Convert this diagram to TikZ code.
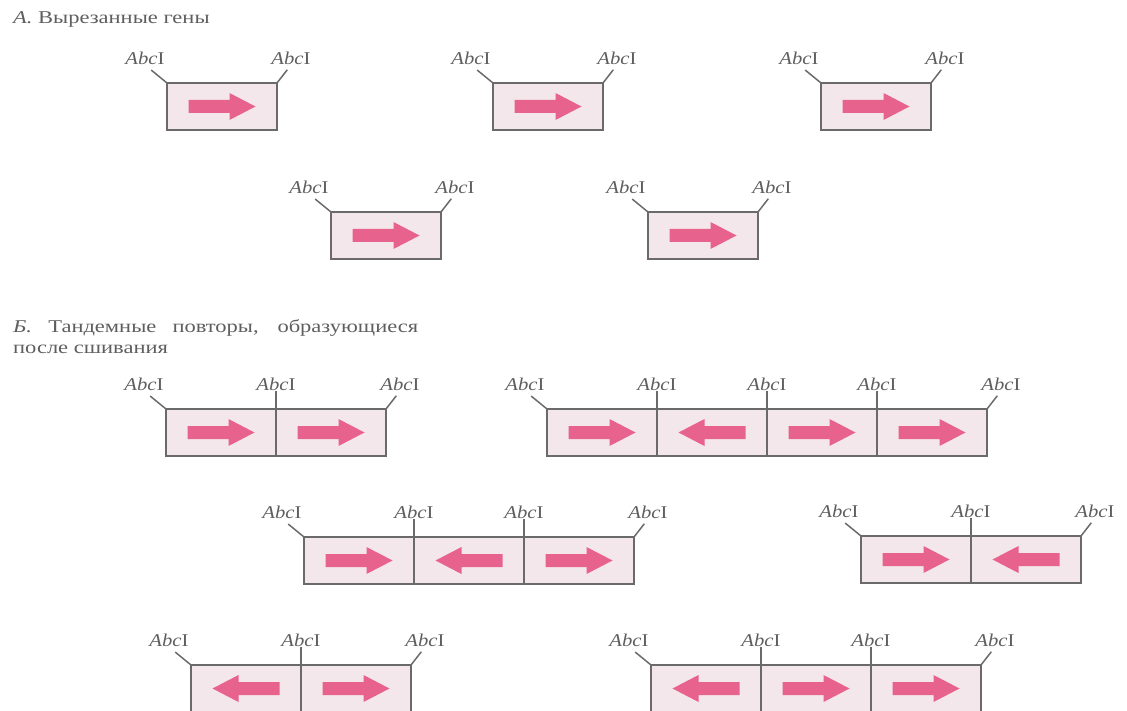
\documentclass[tikz,border=0pt]{standalone}
\usepackage{fontspec}
\setmainfont{Liberation Serif}
\newfontfamily\ttlfont[FakeStretch=1.25]{Liberation Serif}
\newfontfamily\labfont[FakeStretch=1.15]{Liberation Serif}
\definecolor{boxgray}{HTML}{6A6A6A}
\definecolor{boxfill}{HTML}{F3E7EB}
\definecolor{genepink}{HTML}{E8628E}
\definecolor{txtgray}{HTML}{5E5E5E}
\tikzset{
  seg/.style={draw=boxgray, fill=boxfill, line width=1.5pt, minimum width=110pt, minimum height=47pt, inner sep=0pt, outer sep=0pt},
  lab/.style={anchor=south, inner sep=0pt, text=txtgray, font=\labfont\fontsize{18}{20}\selectfont},
  tick/.style={draw=boxgray, line width=1.5pt},
  gene/.style={fill=genepink},
  ttl/.style={anchor=west, inner sep=0pt, text=txtgray, font=\ttlfont\fontsize{18}{21}\selectfont}
}
\newcommand{\abc}{\textit{Abc}I}
% #1 name, #2 left x, #3 top y, #4 number of segments, #5 directions (1 or -1)
\newcommand{\genechain}[5]{%
  \foreach \d [count=\i] in {#5} {
    \pgfmathsetmacro{\cx}{#2+110*\i-55}
    \pgfmathsetmacro{\cy}{#3+23.5}
    \pgfmathsetmacro{\xa}{\cx-33.5*\d}
    \pgfmathsetmacro{\xb}{\cx+7.5*\d}
    \pgfmathsetmacro{\xc}{\cx+33.5*\d}
    \pgfmathsetmacro{\ya}{\cy-6.5}
    \pgfmathsetmacro{\yb}{\cy+6.5}
    \pgfmathsetmacro{\yc}{\cy-13.5}
    \pgfmathsetmacro{\yd}{\cy+13.5}
    \node[seg] (#1-\i) at (\cx,\cy) {};
    \fill[gene] (\xa,\ya) -- (\xb,\ya) -- (\xb,\yc) -- (\xc,\cy) -- (\xb,\yd) -- (\xb,\yb) -- (\xa,\yb) -- cycle;
  }
  \pgfmathsetmacro{\lx}{#2-22}
  \pgfmathsetmacro{\ly}{#3-18}
  \node[lab] (#1-l0) at (\lx,\ly) {\abc};
  \draw[tick,shorten <=8pt] (#1-l0.south) -- (#1-1.north west);
  \pgfmathsetmacro{\rx}{#2+110*#4+14}
  \node[lab] (#1-le) at (\rx,\ly) {\abc};
  \draw[tick,shorten <=6pt] (#1-le.south) -- (#1-#4.north east);
  \ifnum#4>1
    \pgfmathtruncatemacro{\m}{#4-1}
    \foreach \j in {1,...,\m} {
      \pgfmathsetmacro{\dx}{#2+110*\j}
      \node[lab] (#1-d\j) at (\dx,\ly) {\abc};
      \draw[tick] (#1-d\j.south) -- (#1-\j.north east);
    }
  \fi
}
\begin{document}
\begin{tikzpicture}[x=1pt,y=-1pt]
\useasboundingbox (0,0) rectangle (1127,711);
% Titles
\node[ttl] (tA) at (13,19) {\textit{А.} Вырезанные гены};
\node[ttl] (tB1) at (13,328) {\makebox[405pt][s]{\textit{Б.} Тандемные повторы, образующиеся}};
\node[ttl] (tB2) at (13,349) {после сшивания};
% A
\genechain{a1}{167}{83}{1}{1}
\genechain{a2}{493}{83}{1}{1}
\genechain{a3}{821}{83}{1}{1}
\genechain{a4}{331}{212}{1}{1}
\genechain{a5}{648}{212}{1}{1}
% B
\genechain{b1}{166}{409}{2}{1,1}
\genechain{b2}{547}{409}{4}{1,-1,1,1}
\genechain{b3}{304}{537}{3}{1,-1,1}
\genechain{b4}{861}{536}{2}{1,-1}
\genechain{b5}{191}{665}{2}{-1,1}
\genechain{b6}{651}{665}{3}{-1,1,1}
\end{tikzpicture}
\end{document}
